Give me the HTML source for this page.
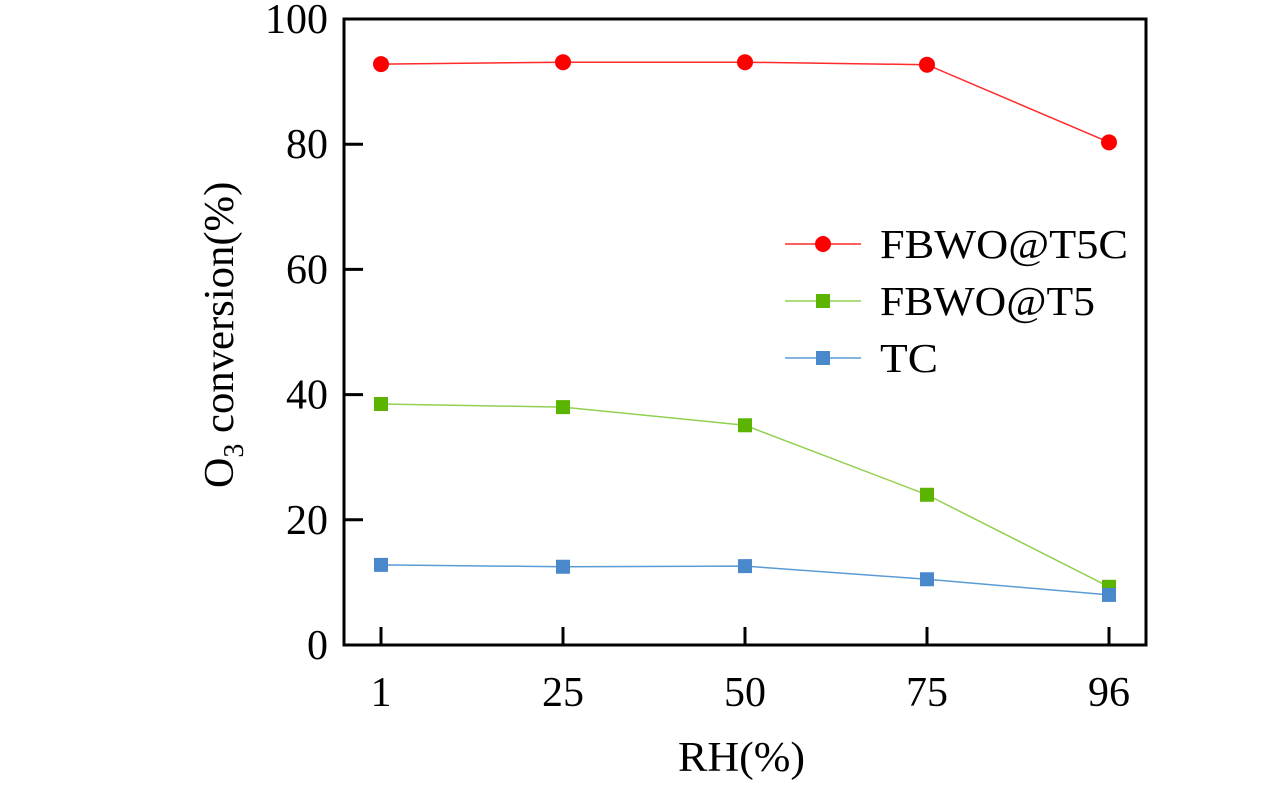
<!DOCTYPE html>
<html><head><meta charset="utf-8"><style>
html,body{margin:0;padding:0;background:#fff;width:1276px;height:787px;overflow:hidden}
text{font-family:"Liberation Serif",serif;fill:#000}
</style></head><body>
<svg id="chart" width="1276" height="787"></svg>
<script>
const categories=["1","25","50","75","96"];
const seriesNames=["FBWO@T5C","FBWO@T5","TC"];
const fbwoT5C=[92.8,93.1,93.1,92.7,80.3];
const fbwoT5=[38.5,38.0,35.1,24.0,9.3];
const tc=[12.8,12.5,12.6,10.5,8.0];
const yTicks=[0,20,40,60,80,100];
const NS="http://www.w3.org/2000/svg";
const svg=document.getElementById('chart');
const L=344,R=1146,T=19,B=645;
const x=i=>381+i*182;
const y=v=>B-(v/100)*(B-T);
function el(tag,attrs,parent){const e=document.createElementNS(NS,tag);for(const k in attrs)e.setAttribute(k,attrs[k]);(parent||svg).appendChild(e);return e;}
const frame=el('rect',{x:L,y:T,width:R-L,height:B-T,fill:'none',stroke:'#000','stroke-width':3});


yTicks.forEach(v=>{
 const t=el('line',{x1:L,x2:L+19,y1:y(v),y2:y(v),stroke:'#000','stroke-width':3});
 
 
 const lb=el('text',{x:L-16,y:y(v)+14,'text-anchor':'end','font-size':42});
 lb.textContent=v;
 
 
});
categories.forEach((c,i)=>{
 const t=el('line',{x1:x(i),x2:x(i),y1:B,y2:B-18,stroke:'#000','stroke-width':3});
 
 
 const lb=el('text',{x:x(i),y:706,'text-anchor':'middle','font-size':42});
 lb.textContent=c;
 
 
});
const xt=el('text',{x:678,y:771,'font-size':42,textLength:127,lengthAdjust:'spacingAndGlyphs'});
xt.textContent='RH(%)';


const yt=el('text',{transform:'translate(233,488) rotate(-90)','font-size':42});
yt.innerHTML='O<tspan font-size="28" dy="10">3</tspan><tspan dy="-10" textLength="262" lengthAdjust="spacingAndGlyphs"> conversion(%)</tspan>';


const data=[fbwoT5C,fbwoT5,tc];
const colors=['#ff0000','#5ab400','#4a88cc'];
const lineColors=['#ff2a2a','#92d050','#5b9bd5'];
const shapes=['circle','square','square'];
const legendWidths=[248,215,58];
function marker(cx,cy,k){
 if(shapes[k]==='circle') return el('circle',{cx,cy,r:8,fill:colors[k]});
 return el('rect',{x:cx-7,y:cy-7,width:14,height:14,fill:colors[k]});
}
data.forEach((s,k)=>{
 const p=el('polyline',{points:s.map((v,i)=>x(i)+','+y(v)).join(' '),fill:'none',stroke:lineColors[k],'stroke-width':1.5});
 
 
 s.forEach((v,i)=>{
  const m=marker(x(i),y(v),k);
  
  
 });
 const ly=244+k*57;
 const ll=el('line',{x1:785,x2:861,y1:ly,y2:ly,stroke:lineColors[k],'stroke-width':1.5});
 
 
 const lm=marker(823,ly,k);
 
 
 const lt=el('text',{x:880,y:ly+14,'font-size':41,textLength:legendWidths[k],lengthAdjust:'spacingAndGlyphs'});
 lt.textContent=seriesNames[k];
 
 
});
</script>
</body></html>
